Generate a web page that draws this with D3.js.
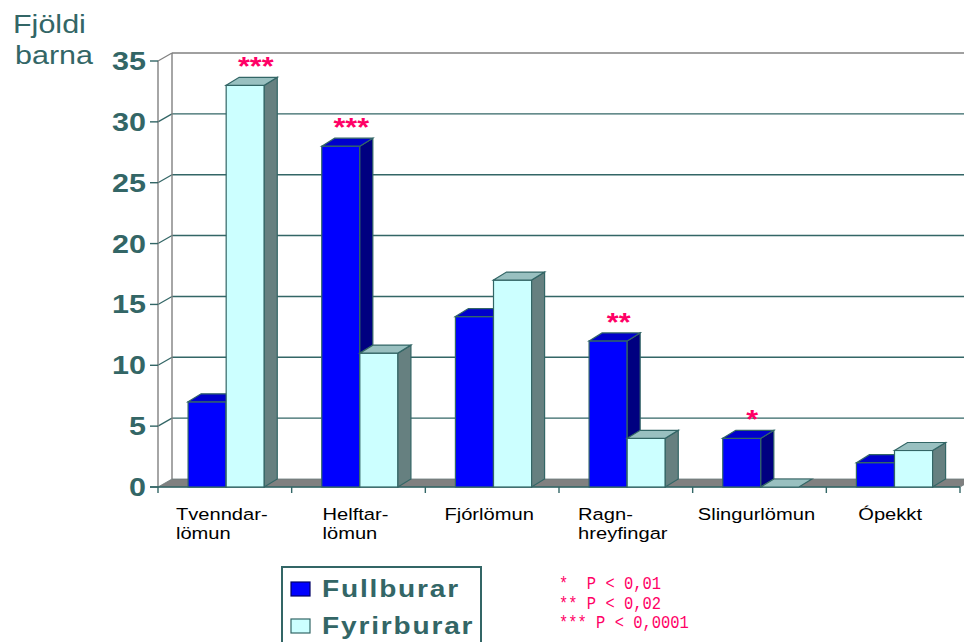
<!DOCTYPE html>
<html>
<head>
<meta charset="utf-8">
<script src="https://cdn.jsdelivr.net/npm/d3@7"></script>
<style>
    body { margin: 0; background: #fff; }
    svg { display: block; font-family: "Liberation Sans", Arial, sans-serif; }
</style>
</head>
<body>
<div id="chart"></div>
<script>
const categories = ['Tvenndar-\nlömun', 'Helftar-\nlömun', 'Fjórlömun', 'Ragn-\nhreyfingar', 'Slingurlömun', 'Ópekkt'];
const seriesNames = ['Fullburar', 'Fyrirburar'];
const fullburar = [7, 28, 14, 12, 4, 2];
const fyrirburar = [33, 11, 17, 4, 0, 3];
const sigFullburar = ['', '***', '', '**', '*', ''];
const sigFyrirburar = ['***', '', '', '', '', ''];
const yTicks = [0, 5, 10, 15, 20, 25, 30, 35];
const pLegend = ['*  P < 0,01', '** P < 0,02', '*** P < 0,0001'];

const W = 964, H = 642;
const SX = 1.22;            // the original is stretched horizontally
const TEAL = '#336666', GRAY = '#808080', PINK = '#FF0066';
const wallDx = 14, wallDy = -8;
const barDx = 13, barDy = -8;

const svg = d3.select('#chart').append('svg')
    .attr('width', W)
    .attr('height', H);

const x = d3.scaleBand()
    .domain(categories)
    .range([158, 960]);

const y = d3.scaleLinear()
    .domain([0, 35])
    .range([487, 61]);

// bars inside a band
const inner = d3.scaleBand()
    .domain(seriesNames)
    .range([x.bandwidth() * 0.225, x.bandwidth() * 0.795]);

const stretchText = (sel, px, py) => sel.attr('transform', 'translate(' + px + ',' + py + ') scale(' + SX + ',1)');

// back wall grid + left wall
const grid = svg.append('g');
yTicks.forEach(v => {
    if (v === 0) return;
    const col = v === 35 ? GRAY : TEAL;
    grid.append('line')
        .attr('x1', x.range()[0] + wallDx).attr('x2', x.range()[1] + wallDx)
        .attr('y1', y(v) + wallDy).attr('y2', y(v) + wallDy)
        .attr('stroke', col).attr('stroke-width', 1.4);
    grid.append('line')
        .attr('x1', x.range()[0]).attr('x2', x.range()[0] + wallDx)
        .attr('y1', y(v)).attr('y2', y(v) + wallDy)
        .attr('stroke', col).attr('stroke-width', 1.2);
});
grid.append('line')
    .attr('x1', x.range()[0] + wallDx).attr('x2', x.range()[0] + wallDx)
    .attr('y1', y(0) + wallDy).attr('y2', y(35) + wallDy)
    .attr('stroke', GRAY).attr('stroke-width', 1.4);
grid.append('line')
    .attr('x1', x.range()[0]).attr('x2', x.range()[0])
    .attr('y1', y(0)).attr('y2', y(35))
    .attr('stroke', GRAY).attr('stroke-width', 1.4);

// floor
const x0 = x.range()[0], x1 = x.range()[1];
svg.append('path')
    .attr('d', 'M' + x0 + ',' + y(0) + 'L' + x1 + ',' + y(0) +
        'L' + (x1 + wallDx) + ',' + (y(0) + wallDy) + 'L' + (x0 + wallDx) + ',' + (y(0) + wallDy) + 'Z')
    .attr('fill', GRAY)
    .attr('stroke', '#6b7b7b')
    .attr('stroke-width', 0.8);

// y ticks and labels
const yAxis = svg.append('g');
yTicks.forEach(v => {
    yAxis.append('line')
        .attr('x1', x0 - 8).attr('x2', x0)
        .attr('y1', y(v)).attr('y2', y(v))
        .attr('stroke', TEAL).attr('stroke-width', 1.4);
    yAxis.append('text')
        .text(v)
        .attr('text-anchor', 'end')
        .attr('font-size', 25)
        .attr('font-weight', 'bold')
        .attr('fill', TEAL)
        .call(stretchText, 146, y(v) + 9);
});

// bottom axis line and category ticks
svg.append('line')
    .attr('x1', x0 - 8).attr('x2', x1)
    .attr('y1', y(0)).attr('y2', y(0))
    .attr('stroke', TEAL).attr('stroke-width', 1.4);
categories.concat([null]).forEach((c, i) => {
    const px = c === null ? x1 : x(c);
    svg.append('line')
        .attr('x1', px).attr('x2', px)
        .attr('y1', y(0)).attr('y2', y(0) + 6)
        .attr('stroke', TEAL).attr('stroke-width', 1.4);
});

// 3D bars
const palette = {
    Fullburar: {front: '#0000FF', top: '#0000CC', side: '#000080'},
    Fyrirburar: {front: '#CCFFFF', top: '#99C0C0', side: '#668080'},
};
const drawBar = (g, bx, bw, v, col) => {
    const yt = y(v), yb = y(0);
    if (v > 0) {
        g.append('rect')
            .attr('x', bx).attr('y', yt)
            .attr('width', bw).attr('height', yb - yt)
            .attr('fill', col.front).attr('stroke', TEAL).attr('stroke-width', 1.2);
        g.append('path')
            .attr('d', 'M' + (bx + bw) + ',' + yt + 'L' + (bx + bw + barDx) + ',' + (yt + barDy) +
                'L' + (bx + bw + barDx) + ',' + (yb + barDy) + 'L' + (bx + bw) + ',' + yb + 'Z')
            .attr('fill', col.side).attr('stroke', TEAL).attr('stroke-width', 1.2);
    }
    g.append('path')
        .attr('d', 'M' + bx + ',' + yt + 'L' + (bx + barDx) + ',' + (yt + barDy) +
            'L' + (bx + bw + barDx) + ',' + (yt + barDy) + 'L' + (bx + bw) + ',' + yt + 'Z')
        .attr('fill', col.top).attr('stroke', TEAL).attr('stroke-width', 1.2);
};

const bars = svg.append('g');
categories.forEach((c, i) => {
    [fullburar, fyrirburar].forEach((vals, s) => {
        const name = seriesNames[s];
        drawBar(bars, x(c) + inner(name), inner.bandwidth(), vals[i], palette[name]);
    });
});

// significance stars
[sigFullburar, sigFyrirburar].forEach((sig, s) => {
    categories.forEach((c, i) => {
        if (!sig[i]) return;
        const v = s === 0 ? fullburar[i] : fyrirburar[i];
        const cx = x(c) + inner(seriesNames[s]) + inner.bandwidth() / 2 + 10.5;
        svg.append('text')
            .text(sig[i])
            .attr('text-anchor', 'middle')
            .attr('font-size', 25)
            .attr('font-weight', 'bold')
            .attr('fill', PINK)
            .call(stretchText, cx, y(v) + barDy - 2);
    });
});

// category labels: left aligned blocks centred on the band
categories.forEach(c => {
    const lines = c.split('\n');
    const g = svg.append('g');
    const texts = lines.map((l, k) => g.append('text')
        .text(l)
        .attr('font-size', 16.5)
        .attr('fill', '#000'));
    const bw = d3.max(texts, t => t.node().getComputedTextLength()) * SX;
    const left = x(c) + x.bandwidth() / 2 - bw / 2 - 3;
    texts.forEach((t, k) => t.call(stretchText, left, 520 + k * 19));
});

// y title
['Fjöldi', 'barna'].forEach((t, k) => {
    svg.append('text')
        .text(t)
        .attr('font-size', 25)
        .attr('fill', TEAL)
        .call(stretchText, 13 + k * 2, 33 + k * 31);
});

// legend
const lg = svg.append('g');
lg.append('rect')
    .attr('x', 282).attr('y', 567)
    .attr('width', 199).attr('height', 90)
    .attr('fill', '#fff')
    .attr('stroke', TEAL).attr('stroke-width', 2);
seriesNames.forEach((name, k) => {
    const ly = 582 + k * 37;
    lg.append('rect')
        .attr('x', 291).attr('y', ly)
        .attr('width', 19).attr('height', 14)
        .attr('fill', palette[name].front)
        .attr('stroke', k === 0 ? '#000066' : TEAL).attr('stroke-width', 1.2);
    lg.append('text')
        .text(name)
        .attr('font-size', 23)
        .attr('font-weight', 'bold')
        .attr('letter-spacing', 1.5)
        .attr('fill', TEAL)
        .call(stretchText, 322, ly + 15);
});

// p-value legend
pLegend.forEach((t, k) => {
    svg.append('text')
        .text(t)
        .attr('font-family', '"Liberation Mono", "DejaVu Sans Mono", monospace')
        .attr('font-size', 18)
        .attr('fill', PINK)
        .attr('transform', 'translate(559,' + (589 + k * 19.5) + ') scale(0.86,1)')
        .style('white-space', 'pre');
});
</script>
</body>
</html>
